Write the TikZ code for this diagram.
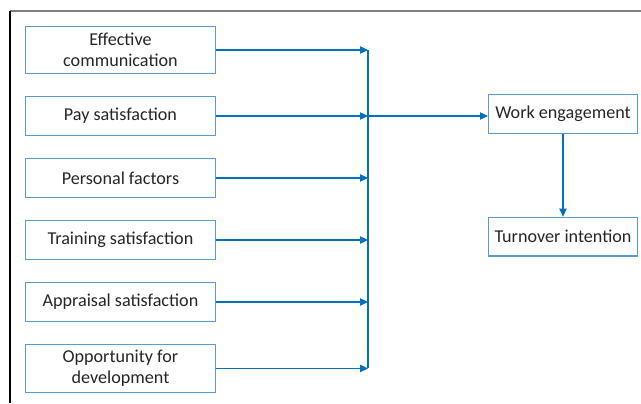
\documentclass[tikz,border=0pt]{standalone}
\usepackage{fontspec}
\setmainfont{Carlito}
\usepackage{xcolor}
\usetikzlibrary{arrows.meta,positioning,calc}
\definecolor{boxblue}{HTML}{5B9BD5}
\definecolor{arrowblue}{HTML}{0070C0}
\definecolor{framegray}{HTML}{808080}

\begin{document}
\begin{tikzpicture}[x=0.75pt,y=-0.75pt,font=\fontsize{13.6}{16}\selectfont,node distance=16.5pt]
  % factor boxes and outcome boxes
  \tikzset{factor/.style={draw=boxblue,line width=0.9pt,minimum width=142.3pt,minimum height=29.1pt,align=center,inner sep=1pt,text=black!85},
    link/.style={draw=arrowblue,line width=0.9pt,-{Triangle[length=6pt,width=5.5pt]}}}
  \useasboundingbox (0,0) rectangle (641,403);
  % frame
  \draw[framegray,line width=1pt] (10,11) -- (641,11);
  \draw[black,line width=0.8pt] (10,11) -- (10,403);

  % left column
  \node[factor,minimum height=35.1pt,anchor=north west] (comm) at (25,26) {Effective\\communication};
  \node[factor,below=of comm] (pay) {Pay satisfaction};
  \node[factor,below=of pay] (pers) {Personal factors};
  \node[factor,below=of pers] (train) {Training satisfaction};
  \node[factor,below=of train] (apprais) {Appraisal satisfaction};
  \node[factor,minimum height=35.8pt,below=of apprais] (opp) {Opportunity for\\development};

  % right column
  \node[factor,minimum width=111.6pt,anchor=north west] (work) at (488,94) {Work engagement};
  \node[factor,minimum width=111.6pt,below=62pt of work] (turn) {Turnover intention};

  % collecting line
  \coordinate (bus) at (368,0);
  \draw[arrowblue,line width=0.9pt] (comm.east -| bus) -- (opp.east -| bus);
  \foreach \f in {comm,pay,pers,train,apprais,opp}
    \draw[link] (\f.east) -- (\f.east -| bus);
  \draw[link] (pay.east -| bus) -- (pay.east -| work.west);
  \draw[link] (work) -- (turn);
\end{tikzpicture}
\end{document}
